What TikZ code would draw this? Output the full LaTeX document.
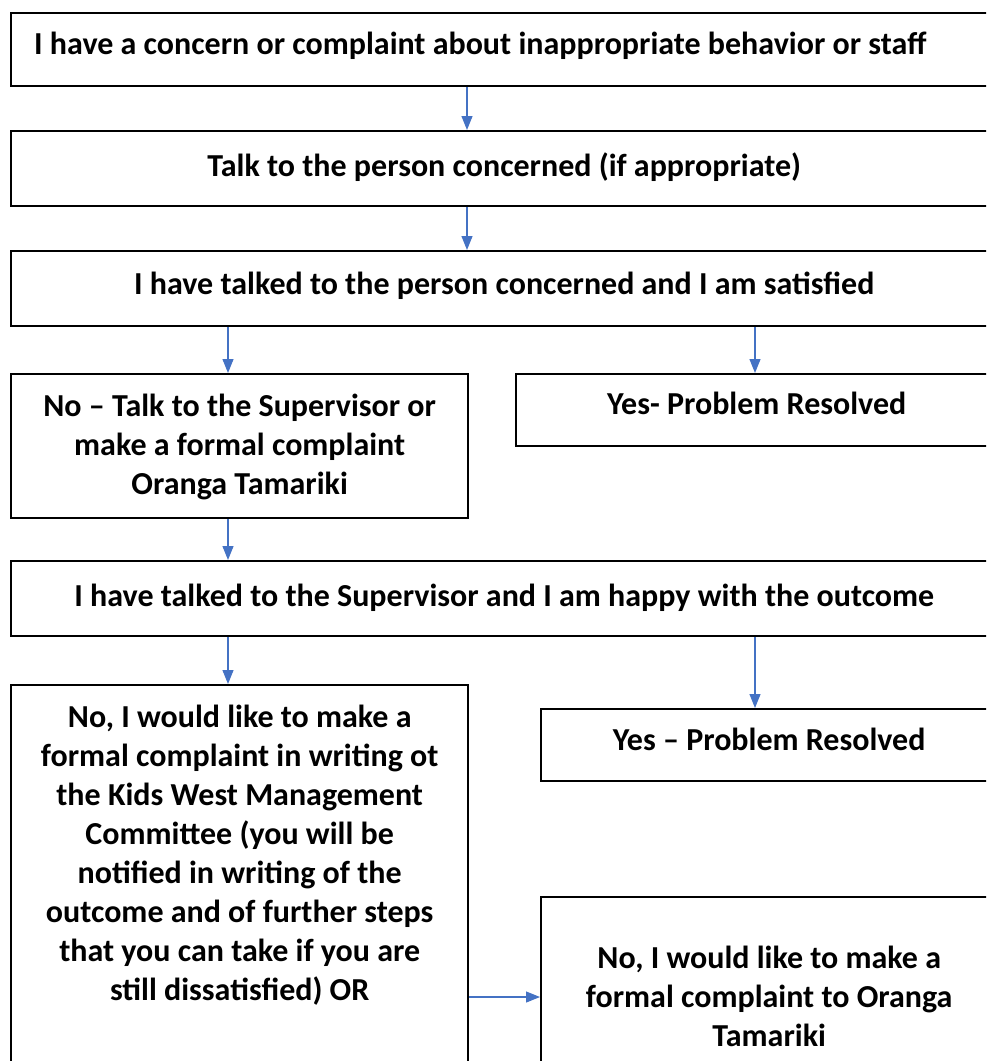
\documentclass[tikz,border=0pt]{standalone}
\usepackage{fontspec}
\setmainfont{Carlito}
\usetikzlibrary{positioning, arrows.meta}
\definecolor{arrowblue}{HTML}{4472C4}

\begin{document}
\begin{tikzpicture}[x=1pt,y=-1pt,
    box/.style={draw,line width=2.4pt,rectangle,anchor=north west,inner xsep=0pt,inner ysep=0pt,align=center,font=\fontsize{32}{39}\selectfont\bfseries},
    arr/.style={draw=arrowblue,line width=1.2pt,-{Triangle[length=14pt,width=11pt]}}]
    \useasboundingbox (0,0) rectangle (986,1061);
    \clip (0,0) rectangle (986,1061);
    % columns and rows for the connectors
    \coordinate (colA) at (228,0);
    \coordinate (colB) at (467,0);
    \coordinate (colC) at (755,0);
    \coordinate (rowD) at (0,997);

    \node[box,align=flush left,text width=940,inner xsep=23,text height=41,text depth=32] (1) at (10,12) {I have a concern or complaint about inappropriate behavior or staff};
    \node[box,minimum width=986,text height=45,text depth=30] (2) at (10,130) {Talk to the person concerned (if appropriate)};
    \node[box,minimum width=986,text height=43,text depth=32] (3) at (10,250) {I have talked to the person concerned and I am satisfied};
    \node[box,minimum width=457,text height=120,text depth=24] (4) at (10,373) {No -- Talk to the Supervisor or\\make a formal complaint\\Oranga Tamariki};
    \node[box,minimum width=481,text height=40,text depth=32] (5) at (515,373) {Yes- Problem Resolved};
    \node[box,minimum width=986,text height=45,text depth=30] (6) at (10,560) {I have talked to the Supervisor and I am happy with the outcome};
    \node[box,minimum width=457,text height=315,text depth=100] (7) at (10,684) {No, I would like to make a\\formal complaint in writing ot\\the Kids West Management\\Committee (you will be\\notified in writing of the\\outcome and of further steps\\that you can take if you are\\still dissatisfied) OR};
    \node[box,minimum width=456,text height=41,text depth=31] (8) at (540,708) {Yes -- Problem Resolved};
    \node[box,minimum width=456,text height=149,text depth=60] (9) at (540,896) {No, I would like to make a\\formal complaint to Oranga\\Tamariki};

    \draw[arr] (1.south -| colB) -- (2.north -| colB);
    \draw[arr] (2.south -| colB) -- (3.north -| colB);
    \draw[arr] (3.south -| colA) -- (4.north -| colA);
    \draw[arr] (3.south -| colC) -- (5.north -| colC);
    \draw[arr] (4.south -| colA) -- (6.north -| colA);
    \draw[arr] (6.south -| colA) -- (7.north -| colA);
    \draw[arr] (6.south -| colC) -- (8.north -| colC);
    \draw[arr] (7.east |- rowD) -- (9.west |- rowD);
\end{tikzpicture}
\end{document}
